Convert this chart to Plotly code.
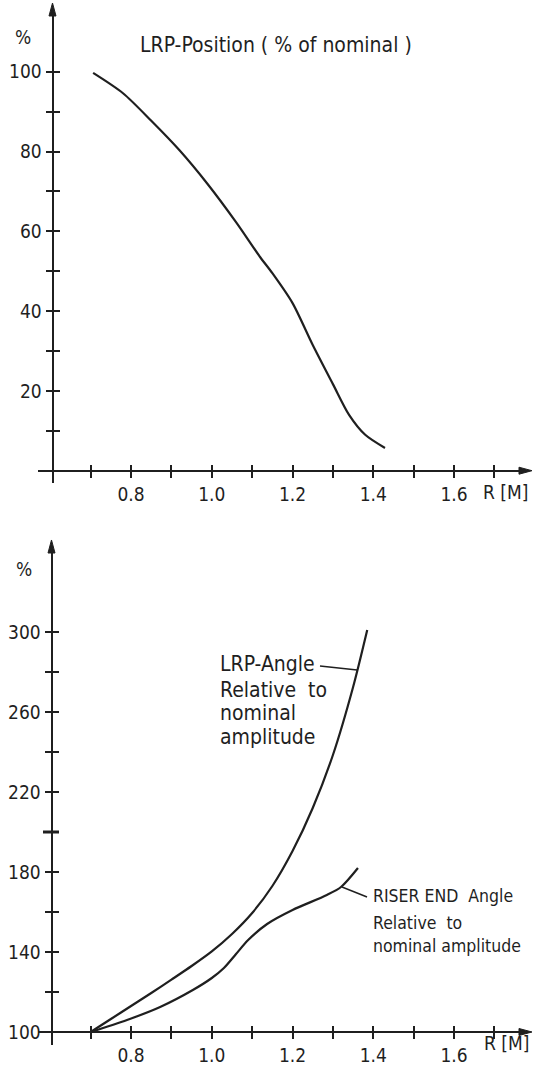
import plotly.graph_objects as go

# ---------------- data ----------------
# Top chart: LRP-Position (% of nominal) vs R [M]
pos_r = [0.706, 0.78, 0.85, 0.92, 0.99, 1.06, 1.12, 1.15, 1.20, 1.25, 1.30, 1.34, 1.38, 1.429]
pos_pct = [99.7, 94.6, 87.7, 80.3, 71.8, 62.3, 53.5, 49.5, 42.0, 31.5, 21.7, 14.0, 9.0, 5.7]

# Bottom chart: LRP-Angle relative to nominal amplitude
angle_r = [0.70, 0.75, 0.80, 0.85, 0.90, 0.95, 1.00, 1.05, 1.10, 1.15, 1.20, 1.25, 1.30, 1.35, 1.385]
angle_pct = [100, 106.5, 113, 119.5, 126.2, 133, 140.3, 149, 159.5, 173, 190.5, 212, 238.5, 272.5, 301]

# Bottom chart: RISER END angle relative to nominal amplitude
riser_r = [0.70, 0.79, 0.872, 0.953, 1.00, 1.03, 1.06, 1.09, 1.137, 1.20, 1.285, 1.32, 1.362]
riser_pct = [100, 106, 112.5, 121, 127, 132, 139, 146, 154, 161, 168.5, 172.5, 182]

x_tickvals = [0.7, 0.8, 0.9, 1.0, 1.1, 1.2, 1.3, 1.4, 1.5, 1.6, 1.7]
x_ticktext = ["", "0.8", "", "1.0", "", "1.2", "", "1.4", "", "1.6", ""]
top_y_tickvals = [10, 20, 30, 40, 50, 60, 70, 80, 90, 100]
top_y_ticktext = ["", "20", "", "40", "", "60", "", "80", "", "100"]
bot_y_tickvals = [100, 120, 140, 160, 180, 200, 220, 240, 260, 280, 300]
bot_y_ticktext = ["100", "", "140", "", "180", "", "220", "", "260", "", "300"]

title_top = "LRP-Position ( % of nominal )"
label_angle_lines = ["LRP-Angle", "Relative  to", "nominal", "amplitude"]
label_riser_lines = ["RISER END  Angle", "Relative  to", "nominal amplitude"]
axis_unit_y = "%"
axis_unit_x = "R [M]"

# leader lines (data coordinates, bottom chart): [x0, y0, x1, y1]
leader_angle = [1.268, 283.0, 1.360, 281.0]
leader_riser = [1.3225, 172.5, 1.3845, 167.5]

# ---------------- layout helpers ----------------
W, H = 533, 1065
INK = "#1f1f1f"
FONT = "DejaVu Sans Condensed, DejaVu Sans, sans-serif"


def fx(p):
    return p / W


def fy(p):
    return 1 - p / H


X_DOMAIN = [fx(38), fx(522)]
X_RANGE = [0.7 - (90.7 - 38) / 403.7, 0.7 + (522 - 90.7) / 403.7]

TOP_Y_DOMAIN = [fy(483), fy(14)]
TOP_Y_RANGE = [(470.7 - 483) / 3.99, (470.7 - 14) / 3.99]
TOP_XPOS = fy(470.7)
TOP_YPOS = fx(52.5)

BOT_Y_DOMAIN = [fy(1045), fy(551)]
BOT_Y_RANGE = [100 - 13 / 2, 100 + (1032 - 551) / 2]
BOT_XPOS = fy(1032)
BOT_YPOS = fx(51.5)

tickfont = dict(family=FONT, size=19, color=INK)

fig = go.Figure()

line_style = dict(color=INK, width=2.2, shape="spline", smoothing=0.8)
fig.add_trace(go.Scatter(x=pos_r, y=pos_pct, mode="lines", line=line_style,
                         xaxis="x", yaxis="y", showlegend=False, hoverinfo="skip"))
fig.add_trace(go.Scatter(x=angle_r, y=angle_pct, mode="lines", line=line_style,
                         xaxis="x2", yaxis="y2", showlegend=False, hoverinfo="skip"))
fig.add_trace(go.Scatter(x=riser_r, y=riser_pct, mode="lines", line=line_style,
                         xaxis="x2", yaxis="y2", showlegend=False, hoverinfo="skip"))
# invisible traces to instantiate the overlay axes (ticks on the other side)
fig.add_trace(go.Scatter(x=[None], y=[None], xaxis="x3", yaxis="y3", showlegend=False, hoverinfo="skip"))
fig.add_trace(go.Scatter(x=[None], y=[None], xaxis="x4", yaxis="y4", showlegend=False, hoverinfo="skip"))

common_axis = dict(showgrid=False, zeroline=False, fixedrange=True)
main_x = dict(common_axis, domain=X_DOMAIN, range=X_RANGE, showline=True, linecolor=INK, linewidth=2,
              tickmode="array", tickvals=x_tickvals, ticktext=x_ticktext, ticks="outside",
              ticklen=6, tickwidth=1.5, tickcolor=INK, tickfont=tickfont, anchor="free")
over_x = dict(common_axis, range=X_RANGE, showline=False, tickmode="array", tickvals=x_tickvals,
              ticks="outside", ticklen=6, tickwidth=1.5, tickcolor=INK, showticklabels=False,
              side="top", anchor="free")

fig.update_layout(
    width=W, height=H,
    margin=dict(l=0, r=0, t=0, b=0),
    paper_bgcolor="white", plot_bgcolor="rgba(0,0,0,0)",
    xaxis=dict(main_x, position=TOP_XPOS),
    yaxis=dict(common_axis, domain=TOP_Y_DOMAIN, range=TOP_Y_RANGE, anchor="free", position=TOP_YPOS,
               showline=True, linecolor=INK, linewidth=2, tickmode="array", tickvals=top_y_tickvals,
               ticktext=top_y_ticktext, ticks="outside", ticklen=6, tickwidth=1.5, tickcolor=INK,
               tickfont=tickfont),
    xaxis2=dict(main_x, position=BOT_XPOS),
    yaxis2=dict(common_axis, domain=BOT_Y_DOMAIN, range=BOT_Y_RANGE, anchor="free", position=BOT_YPOS,
                showline=True, linecolor=INK, linewidth=2, tickmode="array",
                tickvals=bot_y_tickvals, ticktext=bot_y_ticktext,
                ticks="outside", ticklen=6, tickwidth=1.5, tickcolor=INK, tickfont=tickfont),
    xaxis3=dict(over_x, overlaying="x", position=TOP_XPOS),
    yaxis3=dict(common_axis, overlaying="y", range=TOP_Y_RANGE, anchor="free", position=TOP_YPOS,
                side="right", showline=False, tickmode="array", tickvals=top_y_tickvals, ticks="outside",
                ticklen=6, tickwidth=1.5, tickcolor=INK, showticklabels=False),
    xaxis4=dict(over_x, overlaying="x2", position=BOT_XPOS),
    yaxis4=dict(common_axis, overlaying="y2", range=BOT_Y_RANGE, anchor="free", position=BOT_YPOS,
                side="right", showline=False, tickmode="array", tickvals=bot_y_tickvals,
                ticks="outside", ticklen=6, tickwidth=1.5, tickcolor=INK, showticklabels=False),
)


def tri(points):
    return "M " + " L ".join(f"{fx(a):.5f},{fy(b):.5f}" for a, b in points) + " Z"


shapes = []
# arrowheads at axis ends
for tip_x, tip_y in [(52.5, 3), (51.5, 540)]:
    shapes.append(dict(type="path", xref="paper", yref="paper",
                       path=tri([(tip_x, tip_y), (tip_x - 3.5, tip_y + 13), (tip_x + 3.5, tip_y + 13)]),
                       fillcolor=INK, line=dict(color=INK, width=1)))
for tip_x, tip_y in [(532, 470.7), (532, 1032)]:
    shapes.append(dict(type="path", xref="paper", yref="paper",
                       path=tri([(tip_x, tip_y), (tip_x - 13, tip_y - 3.5), (tip_x - 13, tip_y + 3.5)]),
                       fillcolor=INK, line=dict(color=INK, width=1)))
# heavier tick at 200 on the lower axis
shapes.append(dict(type="line", xref="paper", yref="y2", x0=fx(43), x1=fx(59), y0=200, y1=200,
                   line=dict(color=INK, width=3)))
# leader lines
for ld in (leader_angle, leader_riser):
    shapes.append(dict(type="line", xref="x2", yref="y2", x0=ld[0], y0=ld[1], x1=ld[2], y1=ld[3],
                       line=dict(color=INK, width=1.5)))
fig.update_layout(shapes=shapes)

ann_font = dict(family=FONT, size=21, color=INK)
unit_font = dict(family=FONT, size=19, color=INK)
riser_font = dict(family=FONT, size=17.5, color=INK)
annotations = [
    dict(text=axis_unit_y, xref="paper", yref="paper", x=fx(23), y=fy(37), showarrow=False,
         xanchor="center", yanchor="middle", font=unit_font),
    dict(text=axis_unit_y, xref="paper", yref="paper", x=fx(24), y=fy(569), showarrow=False,
         xanchor="center", yanchor="middle", font=unit_font),
    dict(text=title_top, xref="paper", yref="paper", x=fx(138), y=fy(45), showarrow=False,
         xanchor="left", yanchor="middle", font=ann_font),
    dict(text=axis_unit_x, xref="paper", yref="paper", x=fx(530), y=fy(492), showarrow=False,
         xanchor="right", yanchor="middle", font=unit_font),
    dict(text=axis_unit_x, xref="paper", yref="paper", x=fx(531), y=fy(1043), showarrow=False,
         xanchor="right", yanchor="middle", font=unit_font),
]
for txt, yy in zip(label_angle_lines, [663.5, 690, 713, 737]):
    annotations.append(dict(text=txt, xref="paper", yref="paper", x=fx(218), y=fy(yy), showarrow=False,
                            xanchor="left", yanchor="middle", align="left", font=ann_font))
for txt, yy in zip(label_riser_lines, [896, 923, 946]):
    annotations.append(dict(text=txt, xref="paper", yref="paper", x=fx(371), y=fy(yy), showarrow=False,
                            xanchor="left", yanchor="middle", align="left", font=riser_font))
fig.update_layout(annotations=annotations)

fig.write_html("out.html")
